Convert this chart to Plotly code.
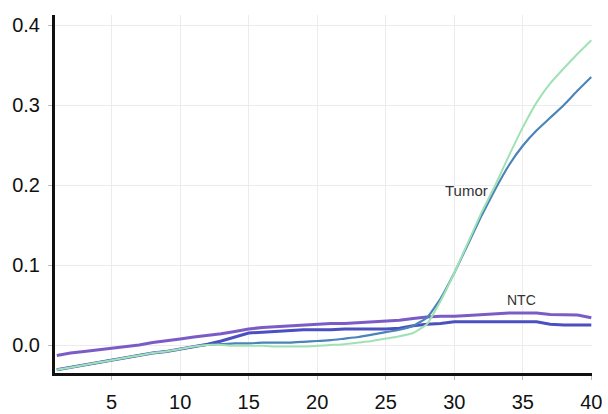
import plotly.graph_objects as go

# Amplification cycles
cycles = list(range(1, 41))

# Fluorescence (delta Rn) per cycle
ntc_a = [-0.013, -0.010, -0.008, -0.006, -0.004, -0.002, 0.000, 0.003, 0.005, 0.0075,
         0.010, 0.012, 0.014, 0.017, 0.020, 0.022, 0.023, 0.024, 0.025, 0.026,
         0.027, 0.027, 0.028, 0.029, 0.030, 0.031, 0.033, 0.035, 0.036, 0.036,
         0.037, 0.038, 0.039, 0.040, 0.040, 0.040, 0.038, 0.0375, 0.0375, 0.034]
ntc_b = [-0.031, -0.028, -0.025, -0.022, -0.019, -0.016, -0.013, -0.010, -0.008, -0.005,
         -0.002, 0.001, 0.005, 0.010, 0.015, 0.016, 0.017, 0.018, 0.019, 0.019,
         0.019, 0.020, 0.020, 0.020, 0.020, 0.021, 0.024, 0.026, 0.027, 0.029,
         0.029, 0.029, 0.029, 0.029, 0.029, 0.029, 0.026, 0.025, 0.025, 0.025]
tumor_a = [-0.031, -0.028, -0.025, -0.022, -0.019, -0.016, -0.013, -0.010, -0.008, -0.005,
           -0.002, 0.000, 0.000, -0.001, -0.001, -0.001, -0.002, -0.002, -0.002, -0.001,
           0.000, 0.001, 0.003, 0.005, 0.008, 0.011, 0.015, 0.026, 0.055, 0.090,
           0.128, 0.166, 0.200, 0.237, 0.272, 0.303, 0.327, 0.346, 0.364, 0.381]
tumor_b = [-0.031, -0.028, -0.025, -0.022, -0.019, -0.016, -0.013, -0.010, -0.008, -0.005,
           -0.002, 0.000, 0.001, 0.002, 0.002, 0.003, 0.003, 0.003, 0.004, 0.005,
           0.006, 0.008, 0.010, 0.013, 0.016, 0.019, 0.024, 0.034, 0.058, 0.090,
           0.126, 0.162, 0.195, 0.225, 0.249, 0.268, 0.284, 0.300, 0.318, 0.335]

x_ticks = [5, 10, 15, 20, 25, 30, 35, 40]
y_ticks = [0.0, 0.1, 0.2, 0.3, 0.4]
y_tick_text = ["0.0", "0.1", "0.2", "0.3", "0.4"]

fig = go.Figure()
fig.add_trace(go.Scatter(x=cycles, y=ntc_a, mode="lines",
                         line=dict(color="#7b5cc6", width=3), name="NTC 1"))
fig.add_trace(go.Scatter(x=cycles, y=ntc_b, mode="lines",
                         line=dict(color="#4b4fc0", width=3), name="NTC 2"))
fig.add_trace(go.Scatter(x=cycles, y=tumor_b, mode="lines",
                         line=dict(color="#4a84b8", width=2.2, shape="spline", smoothing=0.4),
                         name="Tumor 2"))
fig.add_trace(go.Scatter(x=cycles, y=tumor_a, mode="lines",
                         line=dict(color="#9fe2b4", width=2, shape="spline", smoothing=0.4),
                         name="Tumor 1"))

fig.add_annotation(x=30.9, y=0.193, text="Tumor", showarrow=False,
                   font=dict(family="Liberation Sans, Arial", size=15, color="#333333"))
fig.add_annotation(x=34.9, y=0.056, text="NTC", showarrow=False,
                   font=dict(family="Liberation Sans, Arial", size=14, color="#333333"))

fig.update_layout(
    width=608, height=414,
    margin=dict(l=55, r=16, t=15, b=41),
    paper_bgcolor="white", plot_bgcolor="white",
    showlegend=False,
    font=dict(family="Liberation Sans, Arial", color="#111111"),
)
fig.update_xaxes(
    range=[0.87, 40.05], tickvals=x_ticks, ticktext=[str(v) for v in x_ticks],
    showgrid=True, gridcolor="#ececec", gridwidth=1, zeroline=False,
    showline=True, linecolor="#111111", linewidth=3,
    ticks="outside", ticklen=4, tickcolor="#bbbbbb", ticklabelstandoff=5,
    tickfont=dict(size=20), automargin=False,
)
fig.update_yaxes(
    range=[-0.035, 0.4125], tickvals=y_ticks, ticktext=y_tick_text,
    showgrid=True, gridcolor="#ececec", gridwidth=1, zeroline=False,
    showline=True, linecolor="#111111", linewidth=3,
    ticks="outside", ticklen=4, tickcolor="#bbbbbb", ticklabelstandoff=4,
    tickfont=dict(size=20), automargin=False,
)

fig.write_html("out.html")
